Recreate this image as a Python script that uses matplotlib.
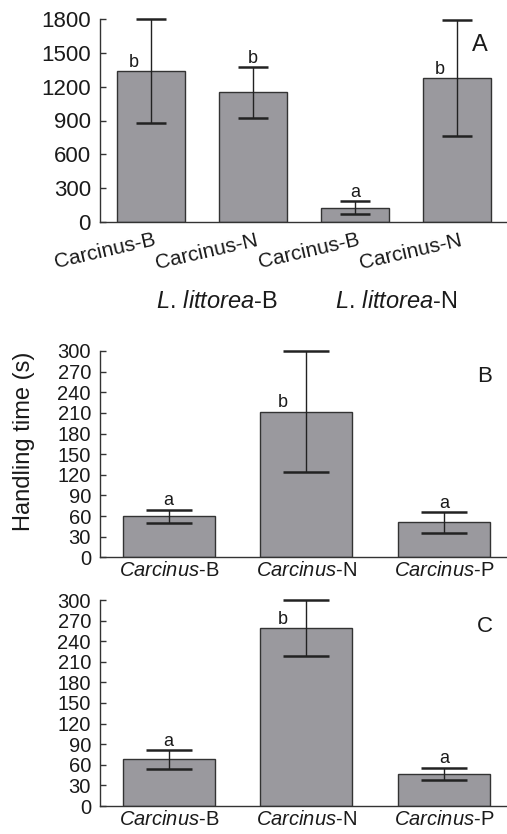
import matplotlib
matplotlib.use('Agg')
import matplotlib.pyplot as plt
import matplotlib.transforms as mtransforms

plt.rcParams['font.family'] = ['Liberation Sans', 'DejaVu Sans']
plt.rcParams['mathtext.fontset'] = 'custom'
plt.rcParams['mathtext.rm'] = 'Liberation Sans'
plt.rcParams['mathtext.it'] = 'Liberation Sans:italic'
plt.rcParams['mathtext.default'] = 'regular'

# ---- data ----
a_labels = ['Carcinus-B', 'Carcinus-N', 'Carcinus-B', 'Carcinus-N']
a_means = [1339, 1150, 127, 1274]
a_errs = [461, 224, 57, 515]
a_letters = ['b', 'b', 'a', 'b']
a_letter_left = [True, False, False, True]
a_groups = [r'$\mathit{L.\,littorea}$-B', r'$\mathit{L.\,littorea}$-N']
a_group_pos = [0.65, 2.41]
a_yticks = [0, 300, 600, 900, 1200, 1500, 1800]

bc_labels = [r'$\mathit{Carcinus}$-B', r'$\mathit{Carcinus}$-N', r'$\mathit{Carcinus}$-P']
bc_yticks = [0, 30, 60, 90, 120, 150, 180, 210, 240, 270, 300]

b_means = [60, 212, 51]
b_errs = [9.5, 88, 15]
b_letters = ['a', 'b', 'a']
b_letter_left = [False, True, False]

c_means = [68, 259, 47]
c_errs = [14, 41, 9]
c_letters = ['a', 'b', 'a']
c_letter_left = [False, True, False]

panel_names = ['A', 'B', 'C']

# ---- style ----
BAR = '#9a999e'
EDGE = '#333333'
TXT = '#1a1a1a'

fig = plt.figure(figsize=(5.07, 8.34), dpi=100)
W, H = 507, 834
axA = fig.add_axes([100 / W, 1 - 222 / H, 407 / W, 203 / H])
axB = fig.add_axes([100 / W, 1 - 557.3 / H, 407 / W, 206.3 / H])
axC = fig.add_axes([100 / W, 1 - 806 / H, 407 / W, 206 / H])


def draw(ax, means, errs, letters, left, ylim, yticks, capsize, xlim, width, tickfs):
    x = list(range(len(means)))
    ax.bar(x, means, width=width, color=BAR, edgecolor=EDGE, linewidth=1.0, zorder=2)
    eb = ax.errorbar(x, means, yerr=errs, fmt='none', ecolor='#222222', elinewidth=1.0,
                     capsize=capsize, capthick=1.8, zorder=3)
    for art in eb.lines[1] + eb.lines[2]:
        art.set_clip_on(False)
    for i, (m, e, l, lf) in enumerate(zip(means, errs, letters, left)):
        if lf:
            xx, yy = i - 0.167, m
        else:
            xx, yy = i, m + e
        ax.annotate(l, (xx, yy), xytext=(0, 3), textcoords='offset points',
                    ha='center', va='baseline', fontsize=13, color=TXT)
    ax.set_xlim(*xlim)
    ax.set_ylim(*ylim)
    ax.set_yticks(yticks)
    ax.set_yticklabels([str(t) for t in yticks])
    ax.tick_params(axis='y', direction='in', length=4, width=1, color=EDGE,
                   labelsize=tickfs, labelcolor=TXT, pad=6.5)
    ax.tick_params(axis='x', length=0, labelcolor=TXT)
    for s in ['top', 'right']:
        ax.spines[s].set_visible(False)
    for s in ['left', 'bottom']:
        ax.spines[s].set_color(EDGE)
        ax.spines[s].set_linewidth(1.0)
    ax.patch.set_alpha(0)


draw(axA, a_means, a_errs, a_letters, a_letter_left, (0, 1800), a_yticks, 11,
     (-0.5, 3.49), 0.667, 16)
draw(axB, b_means, b_errs, b_letters, b_letter_left, (0, 300), bc_yticks, 16.5,
     (-0.5, 2.46), 0.67, 14.5)
draw(axC, c_means, c_errs, c_letters, c_letter_left, (0, 300), bc_yticks, 16.5,
     (-0.5, 2.46), 0.67, 14.5)

# panel A rotated tick labels
axA.set_xticks(range(len(a_labels)))
axA.set_xticklabels(a_labels, fontsize=15)
off = mtransforms.ScaledTranslation(6 / 100, -23 / 100, fig.dpi_scale_trans)
for lab in axA.get_xticklabels():
    lab.set_transform(axA.get_xaxis_transform() + off)
    lab.set_rotation(13)
    lab.set_rotation_mode('anchor')
    lab.set_ha('right')
    lab.set_va('baseline')

for gx, g in zip(a_group_pos, a_groups):
    axA.text(gx, (222 - 308) / 203, g, transform=axA.get_xaxis_transform(),
             ha='center', va='baseline', fontsize=17, color=TXT)

for ax in (axB, axC):
    ax.set_xticks(range(len(bc_labels)))
    ax.set_xticklabels(bc_labels, fontsize=14.5)
    ax.tick_params(axis='x', pad=3)

# panel letters
axA.text(0.934, 0.872, panel_names[0], transform=axA.transAxes, ha='center', va='center',
         fontsize=17, color=TXT)
axB.text(0.946, 0.875, panel_names[1], transform=axB.transAxes, ha='center', va='center',
         fontsize=16, color=TXT)
axC.text(0.946, 0.869, panel_names[2], transform=axC.transAxes, ha='center', va='center',
         fontsize=16, color=TXT)

fig.text(24 / W, 1 - 441 / H, 'Handling time (s)', rotation=90, ha='center', va='center',
         fontsize=17, color=TXT)

fig.savefig('out.png', dpi=100)
